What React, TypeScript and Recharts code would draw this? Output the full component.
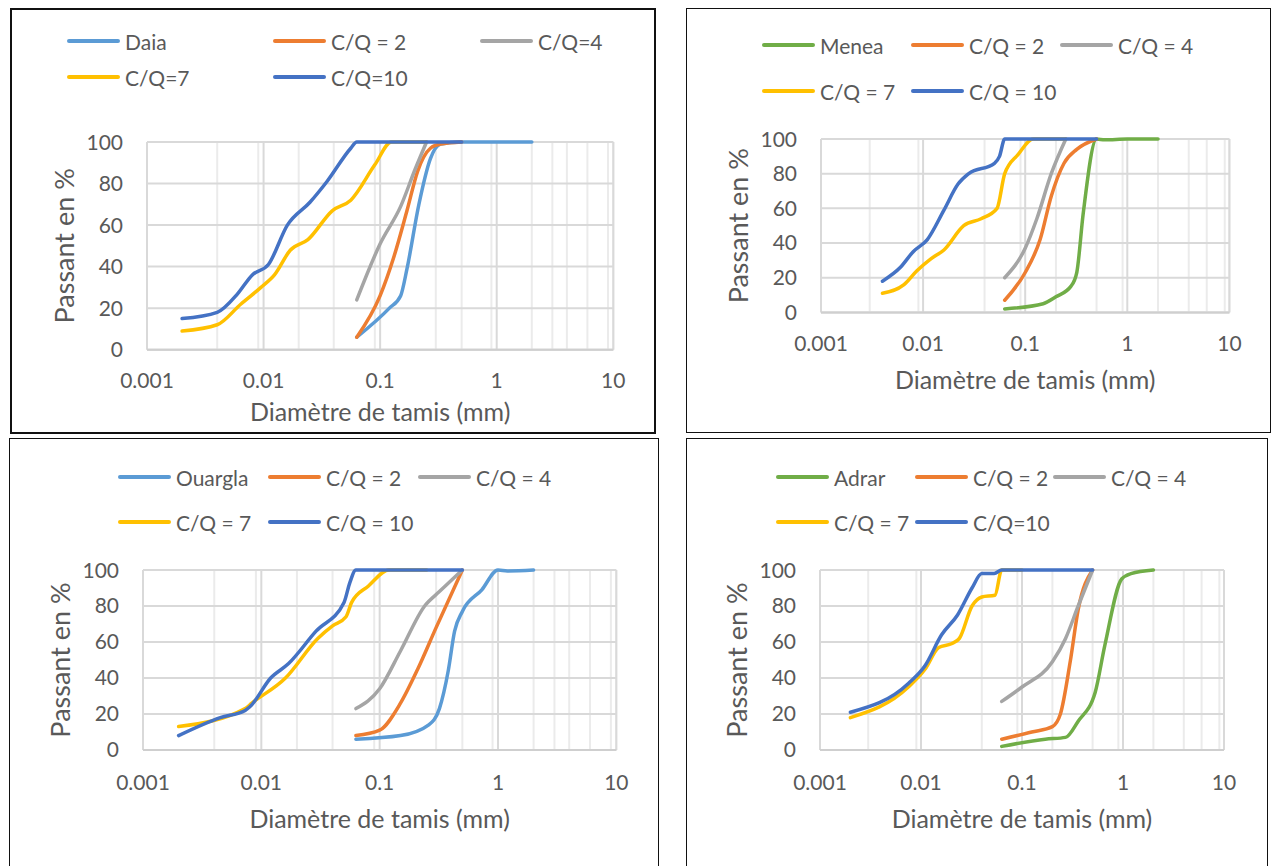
import { LineChart, Line, XAxis, YAxis, CartesianGrid } from "recharts";

// ---- sieve diameters (mm) and % passing ----

// Daia
const DAIA_SOIL_X = [0.063, 0.12, 0.15, 0.17, 0.215, 0.27, 0.33, 0.5, 1, 2];
const DAIA_SOIL_Y = [6, 20, 26, 39, 70, 92, 99, 100, 100, 100];
const DAIA_CQ2_X = [0.063, 0.1, 0.13, 0.17, 0.21, 0.27, 0.33, 0.5];
const DAIA_CQ2_Y = [6, 26, 44, 67, 86, 97, 99, 100];
const DAIA_CQ4_X = [0.063, 0.1, 0.15, 0.2, 0.25];
const DAIA_CQ4_Y = [24, 51, 69, 87, 100];
const DAIA_CQ7_X = [0.002, 0.004, 0.0064, 0.0095, 0.0124, 0.017, 0.024, 0.039, 0.056, 0.09, 0.125, 0.25];
const DAIA_CQ7_Y = [9, 12, 22, 30, 36, 48, 53, 67, 72, 89, 100, 100];
const DAIA_CQ10_X = [0.002, 0.004, 0.006, 0.008, 0.011, 0.016, 0.025, 0.035, 0.056, 0.063, 0.1, 0.5];
const DAIA_CQ10_Y = [15, 18, 27, 36, 41, 60, 71, 81, 97, 100, 100, 100];

// Menea
const MENEA_SOIL_X = [0.063, 0.15, 0.2, 0.28, 0.32, 0.37, 0.5, 0.6, 1, 2];
const MENEA_SOIL_Y = [2, 5, 9, 15, 23, 57, 100, 99.5, 100, 100];
const MENEA_CQ2_X = [0.063, 0.1, 0.14, 0.18, 0.24, 0.32, 0.5];
const MENEA_CQ2_Y = [7, 23, 42, 67, 86, 94, 100];
const MENEA_CQ4_X = [0.063, 0.1, 0.13, 0.18, 0.25];
const MENEA_CQ4_Y = [20, 37, 54, 80, 100];
const MENEA_CQ7_X = [0.004, 0.0065, 0.0087, 0.012, 0.016, 0.025, 0.037, 0.053, 0.063, 0.085, 0.12, 0.25];
const MENEA_CQ7_Y = [11, 16, 24, 31, 36, 50, 54, 60, 80, 91, 100, 100];
const MENEA_CQ10_X = [0.004, 0.006, 0.008, 0.011, 0.016, 0.022, 0.028, 0.05, 0.056, 0.063, 0.1, 0.5];
const MENEA_CQ10_Y = [18, 26, 35, 42, 59, 74, 80, 86, 90, 100, 100, 100];

// Ouargla
const OUARGLA_SOIL_X = [0.063, 0.15, 0.26, 0.32, 0.38, 0.43, 0.5, 0.73, 1, 1.2, 2];
const OUARGLA_SOIL_Y = [6, 8, 14, 23, 44, 66, 77, 89, 100, 99.5, 100];
const OUARGLA_CQ2_X = [0.063, 0.1, 0.15, 0.21, 0.3, 0.5];
const OUARGLA_CQ2_Y = [8, 11, 26, 45, 68, 100];
const OUARGLA_CQ4_X = [0.063, 0.1, 0.15, 0.24, 0.32, 0.5];
const OUARGLA_CQ4_Y = [23, 34, 55, 80, 88, 100];
const OUARGLA_CQ7_X = [0.002, 0.0073, 0.0083, 0.016, 0.03, 0.04, 0.052, 0.058, 0.08, 0.12, 0.25];
const OUARGLA_CQ7_Y = [13, 23, 26, 40, 62, 69, 74, 82, 91, 100, 100];
const OUARGLA_CQ10_X = [0.002, 0.0045, 0.0073, 0.008, 0.012, 0.017, 0.029, 0.05, 0.056, 0.063, 0.1, 0.5];
const OUARGLA_CQ10_Y = [8, 18, 22, 24, 40, 48, 66, 82, 93, 100, 100, 100];

// Adrar
const ADRAR_SOIL_X = [0.063, 0.17, 0.27, 0.36, 0.53, 0.66, 0.97, 1.2, 2];
const ADRAR_SOIL_Y = [2, 6, 7, 16, 32, 58, 95, 98, 100];
const ADRAR_CQ2_X = [0.063, 0.125, 0.2, 0.24, 0.3, 0.36, 0.5];
const ADRAR_CQ2_Y = [6, 10, 13, 20, 49, 78, 100];
const ADRAR_CQ4_X = [0.063, 0.1, 0.2, 0.27, 0.36, 0.5];
const ADRAR_CQ4_Y = [27, 35, 49, 62, 80, 100];
const ADRAR_CQ7_X = [0.002, 0.0075, 0.011, 0.015, 0.02, 0.024, 0.032, 0.04, 0.054, 0.063, 0.1];
const ADRAR_CQ7_Y = [18, 35, 45, 57, 59, 62, 80, 85, 86, 100, 100];
const ADRAR_CQ10_X = [0.002, 0.0075, 0.011, 0.016, 0.023, 0.032, 0.04, 0.053, 0.063, 0.1, 0.5];
const ADRAR_CQ10_Y = [21, 37, 47, 64, 75, 90, 98, 98, 100, 100, 100];

// ---- axes ----
const X_TICKS = [0.001, 0.01, 0.1, 1, 10];
const X_MINOR = [
  0.002, 0.003, 0.004, 0.005, 0.006, 0.007, 0.008, 0.009,
  0.02, 0.03, 0.04, 0.05, 0.06, 0.07, 0.08, 0.09,
  0.2, 0.3, 0.4, 0.5, 0.6, 0.7, 0.8, 0.9,
  2, 3, 4, 5, 6, 7, 8, 9,
];
const Y_TICKS = [0, 20, 40, 60, 80, 100];
const Y_MINOR = [4, 8, 12, 16, 24, 28, 32, 36, 44, 48, 52, 56, 64, 68, 72, 76, 84, 88, 92, 96];

const LIGHT_BLUE = "#5B9BD5";
const ORANGE = "#ED7D31";
const GRAY = "#A5A5A5";
const YELLOW = "#FFC000";
const DARK_BLUE = "#4472C4";
const GREEN = "#70AD47";

const FONT = "Lato, 'Open Sans', sans-serif";
const TEXT = "#595959";

const pts = (xs: number[], ys: number[]) => xs.map((x, i) => ({ x, y: ys[i] }));

type Series = { name: string; color: string; data: { x: number; y: number }[] };

type PanelProps = {
  box: { left: number; top: number; right: number; bottom: number; border: number };
  plot: { x0: number; y0: number; x1: number; y1: number };
  legendRows: number[]; // y centres
  legendCols: number[]; // line start x
  tickGap: number;
  titleOffset: number;
  series: Series[];
};

const Y_AXIS_W = 100;
const TOP_M = 12;
const RIGHT_M = 20;
const X_AXIS_H = 90;

const Panel = ({ box, plot, legendRows, legendCols, tickGap, titleOffset, series }: PanelProps) => {
  const chartLeft = plot.x0 - Y_AXIS_W;
  const chartTop = plot.y0 - TOP_M;
  const width = plot.x1 - plot.x0 + Y_AXIS_W + RIGHT_M;
  const height = plot.y1 - plot.y0 + TOP_M + X_AXIS_H;

  return (
    <>
      <div
        style={{
          position: "absolute",
          left: box.left,
          top: box.top,
          width: box.right - box.left,
          height: box.bottom - box.top,
          border: `${box.border}px solid #111`,
          boxSizing: "border-box",
          background: "#fff",
        }}
      />
      {/* legend, 3 items in the first row, 2 in the second */}
      {series.map((s, i) => {
        const row = i < 3 ? 0 : 1;
        const col = i < 3 ? i : i - 3;
        return (
          <div
            key={s.name}
            style={{
              position: "absolute",
              left: legendCols[col],
              top: legendRows[row] - 14,
              height: 28,
              display: "flex",
              alignItems: "center",
              gap: 5,
              fontFamily: FONT,
              fontSize: 21,
              color: TEXT,
              whiteSpace: "nowrap",
            }}
          >
            <span style={{ width: 53, height: 4, borderRadius: 2, background: s.color, display: "inline-block" }} />
            {s.name}
          </div>
        );
      })}
      <div style={{ position: "absolute", left: chartLeft, top: chartTop }}>
        <LineChart width={width} height={height} margin={{ top: TOP_M, right: RIGHT_M, left: 0, bottom: 0 }}>
          <XAxis
            xAxisId="minor"
            hide
            type="number"
            dataKey="x"
            scale="log"
            domain={[0.001, 10]}
            ticks={X_MINOR}
            allowDataOverflow
          />
          <YAxis yAxisId="minor" hide type="number" domain={[0, 100]} ticks={Y_MINOR} />
          <CartesianGrid xAxisId="minor" yAxisId="minor" stroke="#ebebeb" strokeWidth={2} />
          <CartesianGrid stroke="#d9d9d9" strokeWidth={2} />
          <XAxis
            type="number"
            dataKey="x"
            scale="log"
            domain={[0.001, 10]}
            ticks={X_TICKS}
            allowDataOverflow
            height={X_AXIS_H}
            tickLine={false}
            axisLine={{ stroke: "#cfcfcf", strokeWidth: 2 }}
            tickMargin={tickGap}
            tick={{ fill: TEXT, fontSize: 21, fontFamily: FONT }}
            tickFormatter={(v: number) => String(v)}
            label={{
              value: "Diamètre de tamis (mm)",
              position: "insideBottom",
              offset: titleOffset,
              fill: TEXT,
              fontSize: 25,
              fontFamily: FONT,
            }}
          />
          <YAxis
            type="number"
            domain={[0, 100]}
            ticks={Y_TICKS}
            width={Y_AXIS_W}
            tickLine={false}
            axisLine={false}
            tickMargin={18}
            tick={{ fill: TEXT, fontSize: 21, fontFamily: FONT }}
            label={{
              value: "Passant en %",
              angle: -90,
              position: "insideLeft",
              offset: 17,
              fill: TEXT,
              fontSize: 27,
              fontFamily: FONT,
              style: { textAnchor: "middle" },
            }}
          />
          {series.map((s) => (
            <Line
              key={s.name}
              data={s.data}
              dataKey="y"
              type="monotone"
              stroke={s.color}
              strokeWidth={3.5}
              strokeLinecap="round"
              dot={false}
              activeDot={false}
              isAnimationActive={false}
            />
          ))}
        </LineChart>
      </div>
    </>
  );
};

export default function App() {
  return (
    <div style={{ position: "absolute", left: 0, top: 0, width: 1272, height: 866, background: "#fff", overflow: "hidden" }}>
      <Panel
        box={{ left: 10, top: 8, right: 656, bottom: 434, border: 2 }}
        plot={{ x0: 146.7, y0: 142.3, x1: 613, y1: 350 }}
        legendRows={[41, 77]}
        legendCols={[67, 273, 480]}
        tickGap={17}
        titleOffset={19}
        series={[
          { name: "Daia", color: LIGHT_BLUE, data: pts(DAIA_SOIL_X, DAIA_SOIL_Y) },
          { name: "C/Q = 2", color: ORANGE, data: pts(DAIA_CQ2_X, DAIA_CQ2_Y) },
          { name: "C/Q=4", color: GRAY, data: pts(DAIA_CQ4_X, DAIA_CQ4_Y) },
          { name: "C/Q=7", color: YELLOW, data: pts(DAIA_CQ7_X, DAIA_CQ7_Y) },
          { name: "C/Q=10", color: DARK_BLUE, data: pts(DAIA_CQ10_X, DAIA_CQ10_Y) },
        ]}
      />
      <Panel
        box={{ left: 686, top: 8, right: 1271, bottom: 433, border: 1 }}
        plot={{ x0: 820.6, y0: 139.3, x1: 1229, y1: 312.7 }}
        legendRows={[45, 91]}
        legendCols={[762, 911, 1060]}
        tickGap={18}
        titleOffset={13}
        series={[
          { name: "Menea", color: GREEN, data: pts(MENEA_SOIL_X, MENEA_SOIL_Y) },
          { name: "C/Q = 2", color: ORANGE, data: pts(MENEA_CQ2_X, MENEA_CQ2_Y) },
          { name: "C/Q = 4", color: GRAY, data: pts(MENEA_CQ4_X, MENEA_CQ4_Y) },
          { name: "C/Q = 7", color: YELLOW, data: pts(MENEA_CQ7_X, MENEA_CQ7_Y) },
          { name: "C/Q = 10", color: DARK_BLUE, data: pts(MENEA_CQ10_X, MENEA_CQ10_Y) },
        ]}
      />
      <Panel
        box={{ left: 9, top: 438, right: 659, bottom: 880, border: 1 }}
        plot={{ x0: 142.7, y0: 570.3, x1: 616, y1: 750.3 }}
        legendRows={[477, 522]}
        legendCols={[118, 268, 418]}
        tickGap={19}
        titleOffset={12}
        series={[
          { name: "Ouargla", color: LIGHT_BLUE, data: pts(OUARGLA_SOIL_X, OUARGLA_SOIL_Y) },
          { name: "C/Q = 2", color: ORANGE, data: pts(OUARGLA_CQ2_X, OUARGLA_CQ2_Y) },
          { name: "C/Q = 4", color: GRAY, data: pts(OUARGLA_CQ4_X, OUARGLA_CQ4_Y) },
          { name: "C/Q = 7", color: YELLOW, data: pts(OUARGLA_CQ7_X, OUARGLA_CQ7_Y) },
          { name: "C/Q = 10", color: DARK_BLUE, data: pts(OUARGLA_CQ10_X, OUARGLA_CQ10_Y) },
        ]}
      />
      <Panel
        box={{ left: 686, top: 438, right: 1268, bottom: 880, border: 1 }}
        plot={{ x0: 820.3, y0: 570.3, x1: 1224.3, y1: 750.3 }}
        legendRows={[477, 522]}
        legendCols={[776, 915, 1053]}
        tickGap={19}
        titleOffset={12}
        series={[
          { name: "Adrar", color: GREEN, data: pts(ADRAR_SOIL_X, ADRAR_SOIL_Y) },
          { name: "C/Q = 2", color: ORANGE, data: pts(ADRAR_CQ2_X, ADRAR_CQ2_Y) },
          { name: "C/Q = 4", color: GRAY, data: pts(ADRAR_CQ4_X, ADRAR_CQ4_Y) },
          { name: "C/Q = 7", color: YELLOW, data: pts(ADRAR_CQ7_X, ADRAR_CQ7_Y) },
          { name: "C/Q=10", color: DARK_BLUE, data: pts(ADRAR_CQ10_X, ADRAR_CQ10_Y) },
        ]}
      />
    </div>
  );
}
